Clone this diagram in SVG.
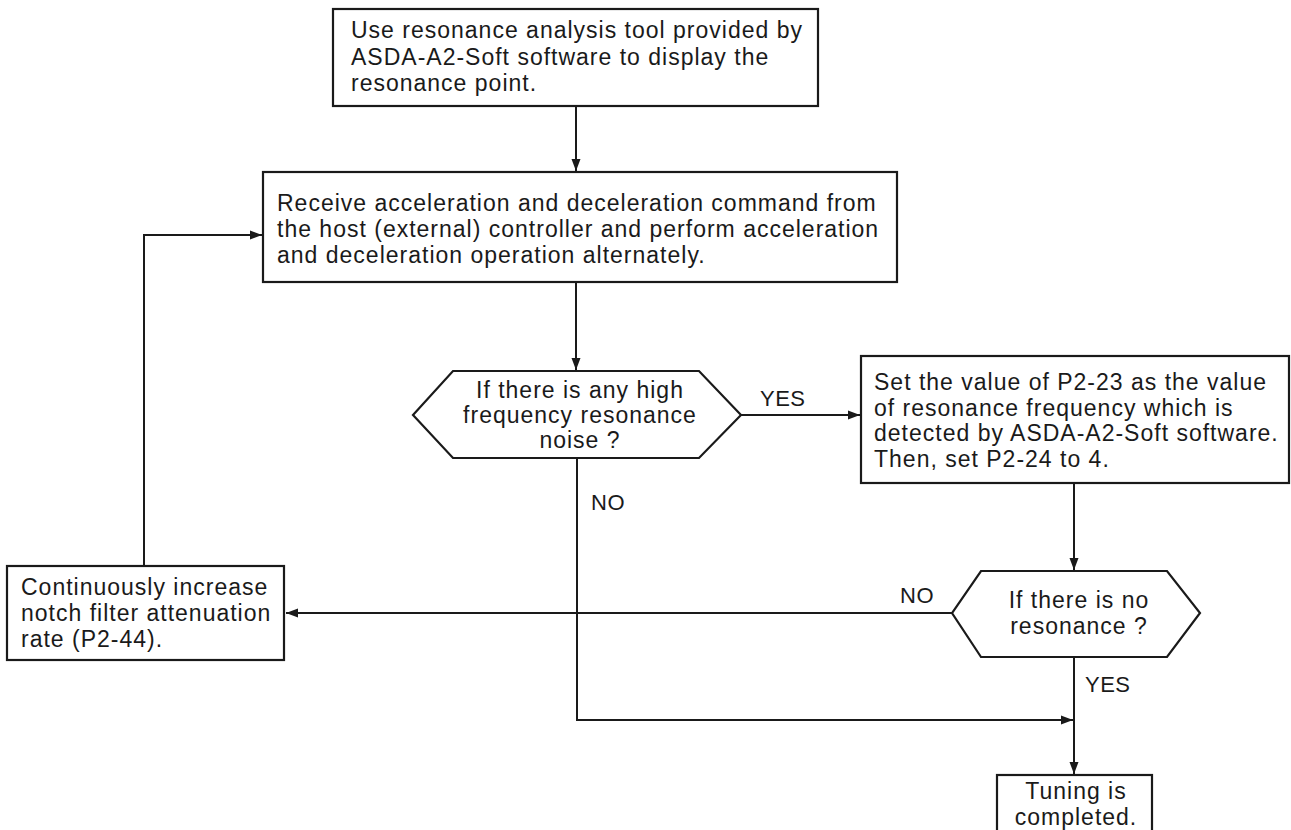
<svg xmlns="http://www.w3.org/2000/svg" width="1291" height="830" viewBox="0 0 1291 830">
<defs>
<style>
.box{fill:#fff;stroke:#1a1a1a;stroke-width:2.2}
.t{font-family:"Liberation Sans",Arial,sans-serif;font-size:23px;fill:#1a1a1a;letter-spacing:1px}
.c{text-anchor:middle}
.lbl{font-family:"Liberation Sans",Arial,sans-serif;font-size:22px;fill:#1a1a1a;letter-spacing:0.5px}
.ln{fill:none;stroke:#1a1a1a;stroke-width:2}
</style>
<marker id="ah" markerUnits="userSpaceOnUse" markerWidth="13" markerHeight="11" refX="12" refY="5.5" orient="auto">
<path d="M0,1 L12,5.5 L0,10 z" fill="#1a1a1a"/>
</marker>
</defs>
<rect width="1291" height="830" fill="#fff"/>
<g id="connectors">
<path class="ln" d="M576,106 V171" marker-end="url(#ah)"/>
<path class="ln" d="M576,282 V370" marker-end="url(#ah)"/>
<path class="ln" d="M741,415 H860" marker-end="url(#ah)"/>
<path class="ln" d="M1074,483 V570" marker-end="url(#ah)"/>
<path class="ln" d="M952,613 H286" marker-end="url(#ah)"/>
<path class="ln" d="M144,566 V235 H262" marker-end="url(#ah)"/>
<path class="ln" d="M577,458 V720 H1073" marker-end="url(#ah)"/>
<path class="ln" d="M1074,657 V774" marker-end="url(#ah)"/>
<text class="lbl" x="760" y="406">YES</text>
<text class="lbl" x="591" y="510">NO</text>
<text class="lbl" x="900" y="603">NO</text>
<text class="lbl" x="1085" y="692">YES</text>
</g>
<g id="n1">
<rect class="box" x="333" y="9" width="485" height="97"/>
<text class="t" x="351" y="38">Use resonance analysis tool provided by</text>
<text class="t" x="351" y="65">ASDA-A2-Soft software to display the</text>
<text class="t" x="351" y="91">resonance point.</text>
</g>
<g id="n2">
<rect class="box" x="263" y="172" width="634" height="110"/>
<text class="t" x="277" y="211">Receive acceleration and deceleration command from</text>
<text class="t" x="277" y="237">the host (external) controller and perform acceleration</text>
<text class="t" x="277" y="263">and deceleration operation alternately.</text>
</g>
<g id="n3">
<polygon class="box" points="413,415 453,371 699,371 741,415 699,458 453,458"/>
<text class="t c" x="580" y="398">If there is any high</text>
<text class="t c" x="580" y="423">frequency resonance</text>
<text class="t c" x="580" y="448">noise ?</text>
</g>
<g id="n4">
<rect class="box" x="861" y="356" width="428" height="127"/>
<text class="t" x="874" y="390">Set the value of P2-23 as the value</text>
<text class="t" x="874" y="416">of resonance frequency which is</text>
<text class="t" x="874" y="441">detected by ASDA-A2-Soft software.</text>
<text class="t" x="874" y="467">Then, set P2-24 to 4.</text>
</g>
<g id="n5">
<polygon class="box" points="952,613 981,571 1167,571 1200,613 1167,657 981,657"/>
<text class="t c" x="1079" y="608">If there is no</text>
<text class="t c" x="1079" y="634">resonance ?</text>
</g>
<g id="n6">
<rect class="box" x="7" y="566" width="277" height="94"/>
<text class="t" x="21" y="595">Continuously increase</text>
<text class="t" x="21" y="621">notch filter attenuation</text>
<text class="t" x="21" y="647">rate (P2-44).</text>
</g>
<g id="n7">
<rect class="box" x="997" y="775" width="155" height="70"/>
<text class="t c" x="1076" y="799">Tuning is</text>
<text class="t c" x="1076" y="825">completed.</text>
</g>
</svg>
